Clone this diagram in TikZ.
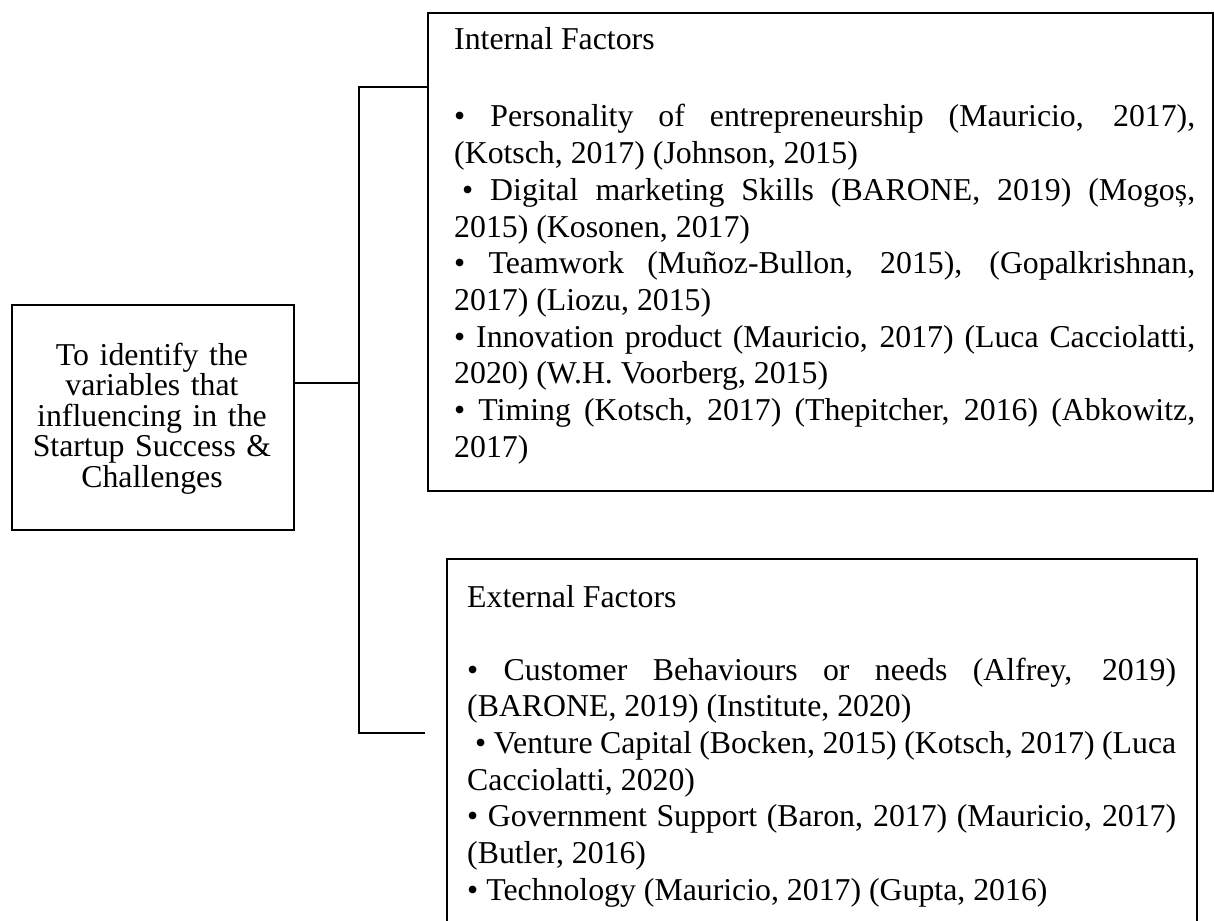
\documentclass[tikz,border=0pt]{standalone}
\usepackage{fontspec}
\setmainfont{Liberation Serif}
\begin{document}
\begin{tikzpicture}[x=1pt,y=-1pt,
  box/.style={draw=black,line width=2pt,rectangle,inner sep=0pt,anchor=north west},
  txt/.style={inner sep=0pt,anchor=base west,align=justify,
    font=\fontsize{31.8pt}{36.7pt}\selectfont},
  ctxt/.style={inner sep=0pt,anchor=base,align=center,
    font=\fontsize{31.8pt}{30.5pt}\selectfont},
  wire/.style={draw=black,line width=2pt}]
\useasboundingbox (0,0) rectangle (1214,920);
\clip (0,0) rectangle (1214,920);
% boxes
\node[box,minimum width=282pt,minimum height=225pt] (goal) at (11,304) {};
\node[box,minimum width=785pt,minimum height=478pt] (int) at (427,12) {};
\node[box,minimum width=750pt,minimum height=400pt] (ext) at (446,558) {};
% texts
\node[ctxt,text width=282pt] (goaltext) at (152,365)
  {To identify the\\ variables that\\ influencing in the\\ Startup Success \&\\ Challenges};
\node[txt,text width=741pt] (inthead) at (454,50) {Internal Factors};
\node[txt,text width=741pt] (intlist) at (454,127) {%
\spaceskip=0.25em plus 1em minus 0.08em
• Personality of entrepreneurship (Mauricio, 2017),\linebreak (Kotsch, 2017) (Johnson, 2015)\par
\hspace*{0.25em}• Digital marketing Skills (BARONE, 2019) (Mogoș,\linebreak 2015) (Kosonen, 2017)\par
• Teamwork (Muñoz-Bullon, 2015), (Gopalkrishnan,\linebreak 2017) (Liozu, 2015)\par
• Innovation product (Mauricio, 2017) (Luca Cacciolatti,\linebreak 2020) (W.H. Voorberg, 2015)\par
• Timing (Kotsch, 2017) (Thepitcher, 2016) (Abkowitz,\linebreak 2017)\par};
\node[txt,text width=709pt] (exthead) at (467,607) {External Factors};
\node[txt,text width=709pt] (extlist) at (467,680) {%
\spaceskip=0.25em plus 1em minus 0.1em
• Customer Behaviours or needs (Alfrey, 2019)\linebreak (BARONE, 2019) (Institute, 2020)\par
\hspace*{0.25em}• Venture Capital (Bocken, 2015) (Kotsch, 2017) (Luca\linebreak Cacciolatti, 2020)\par
• Government Support (Baron, 2017) (Mauricio, 2017)\linebreak (Butler, 2016)\par
• Technology (Mauricio, 2017) (Gupta, 2016)\par};
% connectors
\coordinate (jA) at (359,383);
\coordinate (tc) at (359,87);
\coordinate (bc) at (359,733);
\coordinate (bend) at (425,733);
\draw[wire] (goal.east |- jA) -- (jA);
\draw[wire] (int.west |- tc) -- (tc) -- (bc) -- (bend);
\end{tikzpicture}
\end{document}
